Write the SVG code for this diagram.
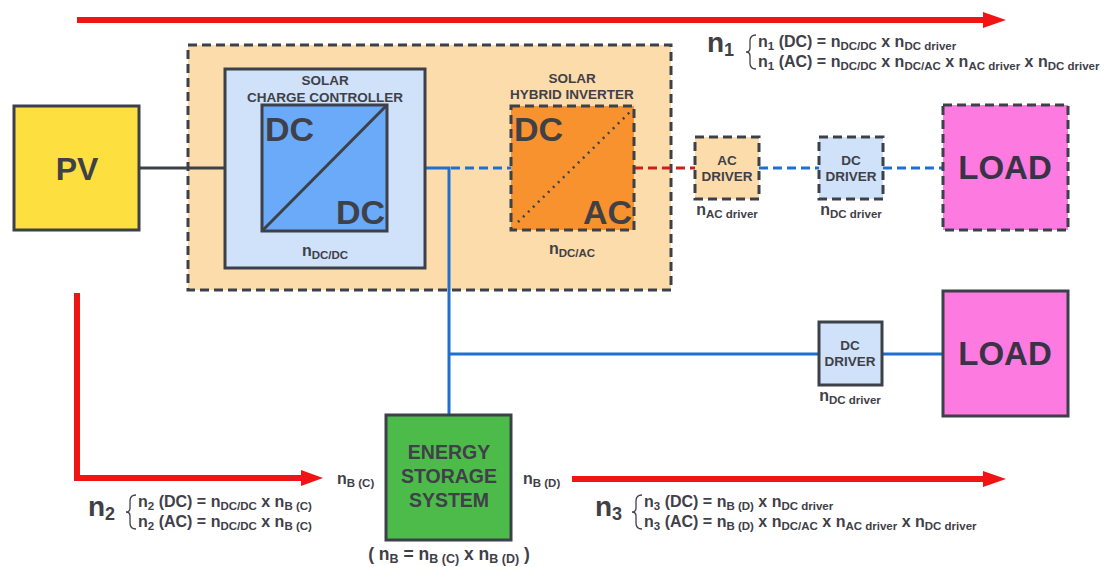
<svg xmlns="http://www.w3.org/2000/svg" width="1113" height="567" viewBox="0 0 1113 567">
<style>
text{font-family:"Liberation Sans",Arial,sans-serif;font-weight:bold;fill:#3f4048}
.box{stroke:#3c4048;stroke-width:3}
.dash{stroke-dasharray:9 5}
.big{font-size:32px;text-anchor:middle}
.lbl{font-size:13.5px;text-anchor:middle}
.eq{font-size:16px}
.n{font-size:16px;text-anchor:middle}
.s{font-size:11.5px}
.red{fill:none;stroke:#f01414;stroke-width:6}
.blue{fill:none;stroke:#1f6fd0;stroke-width:3}
.brace{fill:none;stroke:#3f4048;stroke-width:1.3}
</style>
<g id="arrows">
<line class="red" x1="77" y1="20" x2="985" y2="20"/>
<polygon points="983,12 1006,20 983,28" fill="#f01414"/>
<polyline class="red" points="77,293 77,478 303,478"/>
<polygon points="301,470 323,478 301,486" fill="#f01414"/>
<line class="red" x1="572" y1="479" x2="985" y2="479"/>
<polygon points="983,471 1006,479 983,487" fill="#f01414"/>
</g>
<g id="group-box"><rect class="box dash" x="188" y="45" width="483" height="245" fill="#fddcab"/></g>
<g id="connectors">
<line x1="139" y1="168" x2="262" y2="168" stroke="#3c4048" stroke-width="3"/>
<polyline class="blue" points="387,168 449,168 449,415"/>
<line class="blue dash" x1="451" y1="168" x2="511" y2="168"/>
<line x1="634" y1="168" x2="695" y2="168" stroke="#c9201c" stroke-width="3" stroke-dasharray="9 5"/>
<line class="blue dash" x1="759" y1="168" x2="819" y2="168"/>
<line class="blue dash" x1="883" y1="168" x2="943" y2="168"/>
<line class="blue" x1="449" y1="354" x2="819" y2="354"/>
<line class="blue" x1="882" y1="354" x2="943" y2="354"/>
</g>
<g id="pv">
<rect class="box" x="14" y="106" width="125" height="124" fill="#fde040"/>
<text class="big" x="77" y="180">PV</text>
</g>
<g id="charge-controller">
<rect class="box" x="225" y="69" width="200" height="199" fill="#cfe2fa"/>
<text class="lbl" x="325" y="85">SOLAR</text>
<text class="lbl" x="325" y="102">CHARGE CONTROLLER</text>
<rect class="box" x="262" y="105" width="125" height="126" fill="#6aaaf8"/>
<line x1="263" y1="230" x2="386" y2="106" stroke="#3c4048" stroke-width="3"/>
<text x="265" y="141" style="font-size:34px">DC</text>
<text x="385" y="224" style="font-size:34px;text-anchor:end">DC</text>
<text x="325" y="256" class="n">n<tspan class="s" dy="3">DC/DC</tspan></text>
</g>
<g id="inverter">
<text class="lbl" x="572" y="83">SOLAR</text>
<text class="lbl" x="572" y="99">HYBRID INVERTER</text>
<rect class="box dash" x="511" y="106" width="123" height="124" fill="#f7922e"/>
<line x1="518" y1="222" x2="630" y2="112" stroke="#3c4048" stroke-width="2.5" stroke-dasharray="2 5"/>
<text x="514" y="141" style="font-size:34px">DC</text>
<text x="632" y="224" style="font-size:34px;text-anchor:end">AC</text>
<text x="572" y="254" class="n">n<tspan class="s" dy="3">DC/AC</tspan></text>
</g>
<g id="ac-driver">
<rect class="box dash" x="695" y="137" width="64" height="62" fill="#fddcab"/>
<text class="lbl" x="727" y="165">AC</text>
<text class="lbl" x="727" y="181">DRIVER</text>
<text x="727" y="215" class="n">n<tspan class="s" dy="3">AC driver</tspan></text>
</g>
<g id="dc-driver-top">
<rect class="box dash" x="819" y="137" width="64" height="62" fill="#cfe2fa"/>
<text class="lbl" x="851" y="165">DC</text>
<text class="lbl" x="851" y="181">DRIVER</text>
<text x="851" y="215" class="n">n<tspan class="s" dy="3">DC driver</tspan></text>
</g>
<g id="load-top">
<rect class="box dash" x="943" y="105" width="125" height="125" fill="#fd7ae0"/>
<text class="big" x="1005" y="179" style="font-size:33px;fill:#3a3346">LOAD</text>
</g>
<g id="dc-driver-bottom">
<rect class="box" x="819" y="322" width="63" height="63" fill="#cfe2fa"/>
<text class="lbl" x="850" y="350">DC</text>
<text class="lbl" x="850" y="366">DRIVER</text>
<text x="850" y="401" class="n">n<tspan class="s" dy="3">DC driver</tspan></text>
</g>
<g id="load-bottom">
<rect class="box" x="943" y="291" width="125" height="125" fill="#fd7ae0"/>
<text class="big" x="1005" y="365" style="font-size:33px;fill:#3a3346">LOAD</text>
</g>
<g id="storage">
<rect class="box" x="386" y="415" width="125" height="125" fill="#4cbb4a"/>
<text x="449" y="459" style="font-size:19.5px;text-anchor:middle">ENERGY</text>
<text x="449" y="483" style="font-size:19.5px;text-anchor:middle">STORAGE</text>
<text x="449" y="507" style="font-size:19.5px;text-anchor:middle">SYSTEM</text>
<text x="337" y="484" class="eq">n<tspan class="s" dy="3">B (C)</tspan></text>
<text x="523" y="484" class="eq">n<tspan class="s" dy="3">B (D)</tspan></text>
<text x="449" y="560" style="font-size:17.5px;text-anchor:middle">( n<tspan style="font-size:12.5px" dy="3">B</tspan><tspan dy="-3"> = n</tspan><tspan style="font-size:12.5px" dy="3">B (C)</tspan><tspan dy="-3"> x n</tspan><tspan style="font-size:12.5px" dy="3">B (D)</tspan><tspan dy="-3"> )</tspan></text>
</g>
<g id="eq-n1">
<text x="707" y="52" style="font-size:28px">n<tspan style="font-size:18px" dy="4">1</tspan></text>
<path class="brace" d="M756,35 Q750,35 750,41 L750,48 Q750,52 746,52 Q750,52 750,56 L750,63 Q750,69 756,69"/>
<text x="758" y="47" class="eq">n<tspan class="s" dy="3">1</tspan><tspan dy="-3"> (DC) = n</tspan><tspan class="s" dy="3">DC/DC</tspan><tspan dy="-3"> x n</tspan><tspan class="s" dy="3">DC driver</tspan></text>
<text x="758" y="67" class="eq">n<tspan class="s" dy="3">1</tspan><tspan dy="-3"> (AC) = n</tspan><tspan class="s" dy="3">DC/DC</tspan><tspan dy="-3"> x n</tspan><tspan class="s" dy="3">DC/AC</tspan><tspan dy="-3"> x n</tspan><tspan class="s" dy="3">AC driver</tspan><tspan dy="-3"> x n</tspan><tspan class="s" dy="3">DC driver</tspan></text>
</g>
<g id="eq-n2">
<text x="88" y="516" style="font-size:28px">n<tspan style="font-size:18px" dy="4">2</tspan></text>
<path class="brace" d="M136,495 Q130,495 130,501 L130,508 Q130,512 126,512 Q130,512 130,516 L130,523 Q130,529 136,529"/>
<text x="138" y="507" class="eq">n<tspan class="s" dy="3">2</tspan><tspan dy="-3"> (DC) = n</tspan><tspan class="s" dy="3">DC/DC</tspan><tspan dy="-3"> x n</tspan><tspan class="s" dy="3">B (C)</tspan></text>
<text x="138" y="527" class="eq">n<tspan class="s" dy="3">2</tspan><tspan dy="-3"> (AC) = n</tspan><tspan class="s" dy="3">DC/DC</tspan><tspan dy="-3"> x n</tspan><tspan class="s" dy="3">B (C)</tspan></text>
</g>
<g id="eq-n3">
<text x="595" y="516" style="font-size:28px">n<tspan style="font-size:18px" dy="4">3</tspan></text>
<path class="brace" d="M642,495 Q636,495 636,501 L636,508 Q636,512 632,512 Q636,512 636,516 L636,523 Q636,529 642,529"/>
<text x="644" y="507" class="eq">n<tspan class="s" dy="3">3</tspan><tspan dy="-3"> (DC) = n</tspan><tspan class="s" dy="3">B (D)</tspan><tspan dy="-3"> x n</tspan><tspan class="s" dy="3">DC driver</tspan></text>
<text x="644" y="527" class="eq">n<tspan class="s" dy="3">3</tspan><tspan dy="-3"> (AC) = n</tspan><tspan class="s" dy="3">B (D)</tspan><tspan dy="-3"> x n</tspan><tspan class="s" dy="3">DC/AC</tspan><tspan dy="-3"> x n</tspan><tspan class="s" dy="3">AC driver</tspan><tspan dy="-3"> x n</tspan><tspan class="s" dy="3">DC driver</tspan></text>
</g>
</svg>
